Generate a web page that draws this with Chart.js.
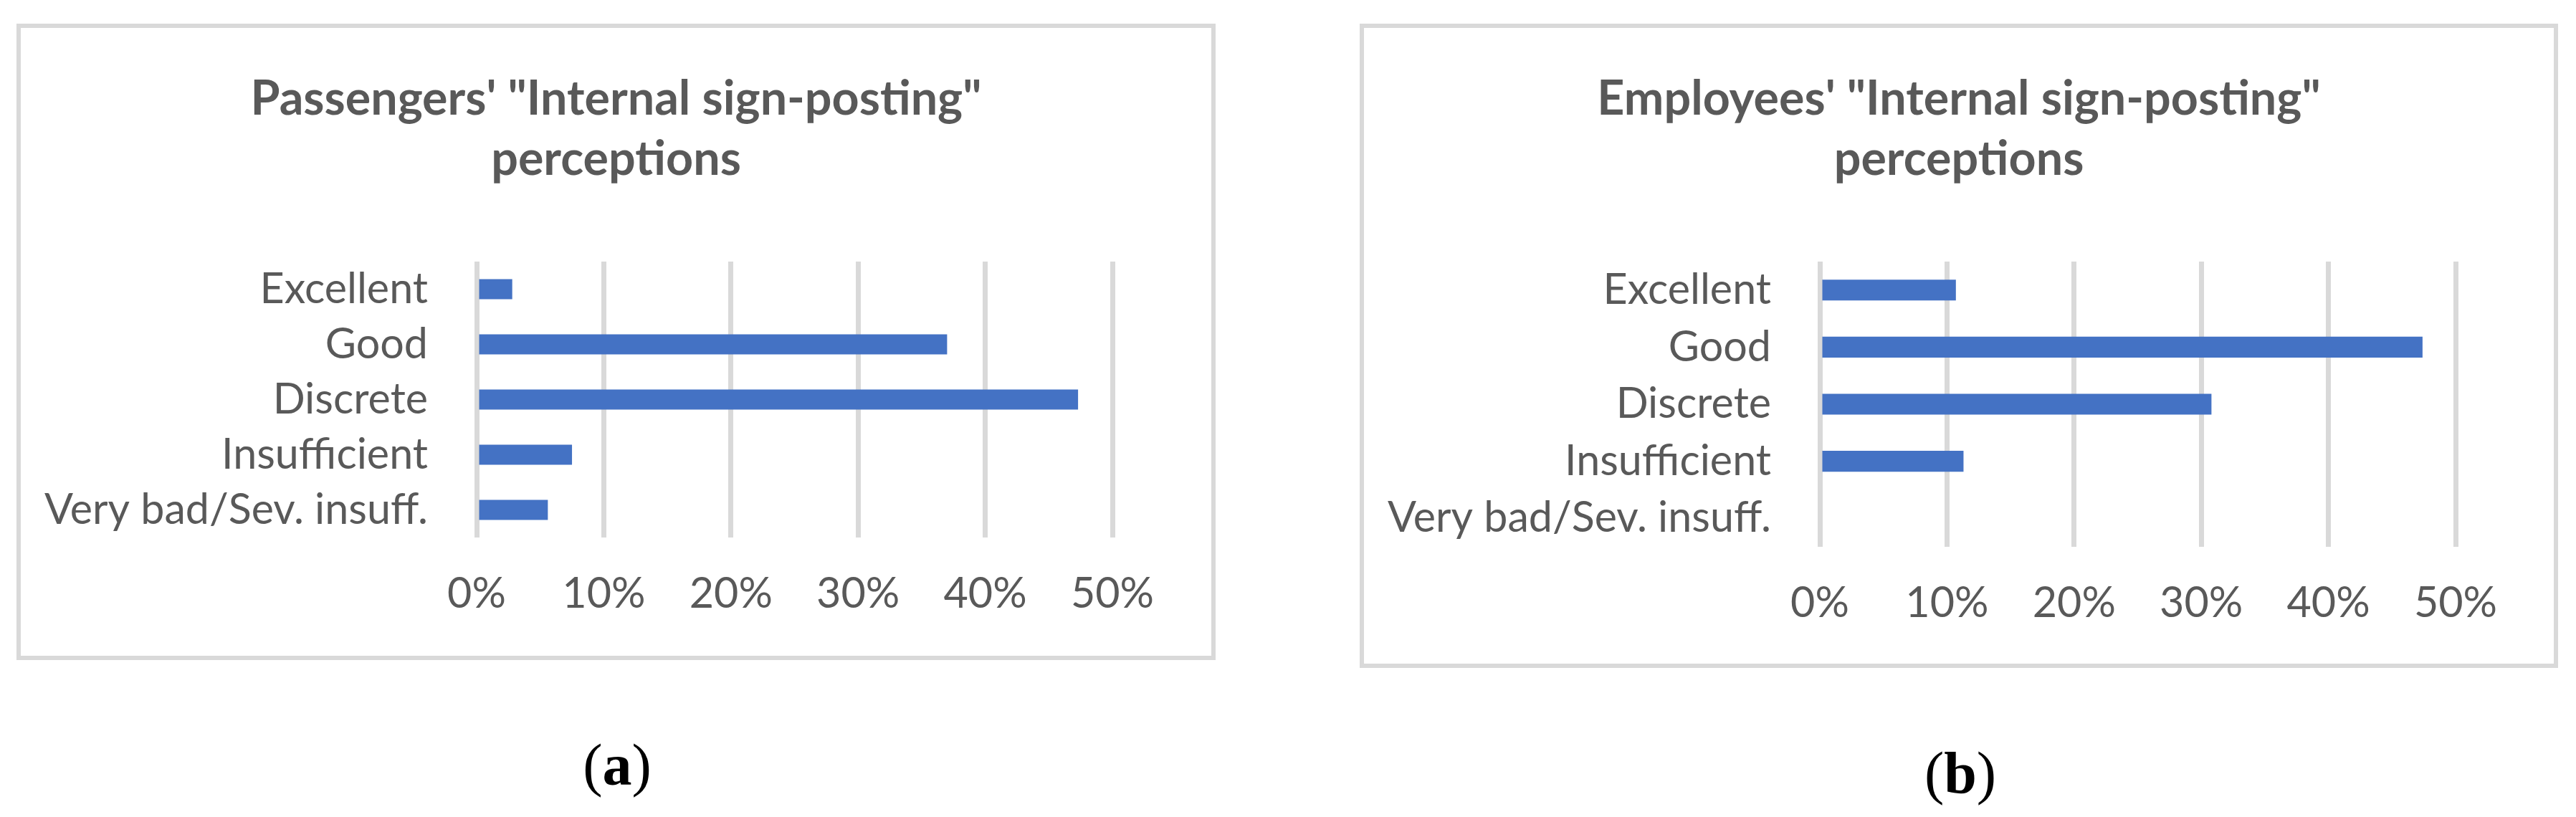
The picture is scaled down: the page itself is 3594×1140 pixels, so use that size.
<!DOCTYPE html>
<html>
<head>
<meta charset="utf-8">
<script src="https://cdn.jsdelivr.net/npm/chart.js@4.4.1/dist/chart.umd.min.js"></script>
<style>
  html, body { margin: 0; padding: 0; background: #fff; }
  body { width: 3594px; height: 1140px; position: relative; overflow: hidden; }
  .box { position: absolute; border: 6px solid #d9d9d9; box-sizing: border-box; }
  .box canvas { position: absolute; left: 0; top: 0; }
  .caption { position: absolute; width: 400px; text-align: center; font-family: 'Liberation Serif', serif; font-size: 82px; line-height: 82px; color: #000; }
</style>
</head>
<body>
<div class="box" style="left:23px;top:33px;width:1673px;height:888px"><canvas id="chartA" width="1661" height="876"></canvas></div>
<div class="box" style="left:1897px;top:33px;width:1672px;height:899px"><canvas id="chartB" width="1660" height="887"></canvas></div>
<div class="caption" style="left:661px;top:1027px">(<b>a</b>)</div>
<div class="caption" style="left:2535px;top:1038px">(<b>b</b>)</div>
<script>
const categories = ['Excellent', 'Good', 'Discrete', 'Insufficient', 'Very bad/Sev. insuff.']
const passengers = [2.8, 37.0, 47.3, 7.5, 5.6]
const employees = [10.7, 47.4, 30.8, 11.3, 0]
const tickLabels = ['0%', '10%', '20%', '30%', '40%', '50%']
const titleA = ['Passengers\' "Internal sign-posting"', 'perceptions']
const titleB = ['Employees\' "Internal sign-posting"', 'perceptions']

const FONT = 'Lato'
const TEXT = '#595959'
const GRID = '#d9d9d9'
const BAR = '#4472c4'
const MID = 0.35 // canvas 'middle' baseline sits roughly this many em above the alphabetic one

// font size that makes a string as wide as it is in the reference
const fitSize = (text, weight, width) => {
    const ctx = document.createElement('canvas').getContext('2d')
    ctx.font = `${weight} 100px ${FONT}`
    return 100 * width / ctx.measureText(text).width
}

const labelSize = fitSize(categories[4], 'normal', 535)
const titleSize = fitSize(titleA[0], 'bold', 1020)
const titleLine = 84

const renderChart = (canvas, title, values, rightGap, plotBottom) => {
    const titleTop = 123 - MID * titleSize - titleLine / 2
    new Chart(canvas.getContext('2d'), {
        type: 'bar',
        data: {
            labels: categories,
            datasets: [{
                data: values,
                backgroundColor: BAR,
                borderWidth: 0,
                barPercentage: 0.365,
                categoryPercentage: 1
            }]
        },
        options: {
            indexAxis: 'y',
            responsive: false,
            animation: false,
            layout: { padding: 0 },
            plugins: {
                legend: { display: false },
                tooltip: { enabled: false },
                title: {
                    display: true,
                    text: title,
                    color: TEXT,
                    font: { family: FONT, size: titleSize, weight: 'bold', lineHeight: titleLine + 'px' },
                    padding: { top: titleTop, bottom: 326 - titleTop - 2 * titleLine }
                }
            },
            scales: {
                x: {
                    min: 0,
                    max: 50,
                    ticks: {
                        stepSize: 10,
                        autoSkip: false,
                        maxRotation: 0,
                        callback: (v, i) => tickLabels[i],
                        color: TEXT,
                        font: { family: FONT, size: labelSize },
                        padding: 100 - (0.6 + MID) * labelSize
                    },
                    grid: { color: GRID, lineWidth: 7, drawTicks: false },
                    border: { display: false },
                    afterFit: s => { s.height = canvas.height - plotBottom }
                },
                y: {
                    ticks: {
                        autoSkip: false,
                        color: TEXT,
                        font: { family: FONT, size: labelSize },
                        padding: 60
                    },
                    grid: { display: false },
                    border: { display: false },
                    afterFit: s => { s.width = 636 }
                },
                // empty axis on the right, only there to keep the blank margin right of the plot
                gap: {
                    type: 'linear',
                    axis: 'y',
                    position: 'right',
                    ticks: { display: false },
                    grid: { display: false },
                    border: { display: false },
                    afterFit: s => { s.width = rightGap }
                }
            }
        }
    })
}

renderChart(document.getElementById('chartA'), titleA, passengers, 138, 711)
renderChart(document.getElementById('chartB'), titleB, employees, 137, 724)
</script>
</body>
</html>
